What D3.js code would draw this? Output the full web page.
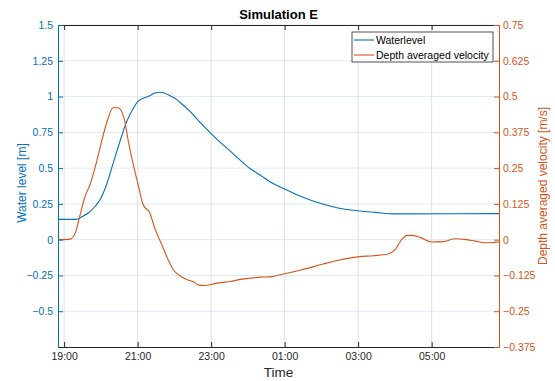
<!DOCTYPE html>
<html>
<head>
<meta charset="utf-8">
<script src="https://cdn.jsdelivr.net/npm/d3@7"></script>
<style>
  body { margin: 0; background: #fff; }
  svg { display: block; font-family: 'Liberation Sans', Arial, sans-serif; }
</style>
</head>
<body>
<script>
// Waterlevel [m]
const levelTimes = ['18:50', '19:20', '19:29', '19:40', '19:50', '20:00', '20:10', '20:20', '20:31', '20:42',
  '20:53', '21:00', '21:09', '21:20', '21:28', '21:37', '21:45', '21:53', '22:01', '22:09', '22:26', '22:42',
  '22:58', '23:15', '23:31', '23:47', '00:03', '00:20', '00:36', '01:01', '01:25', '01:50', '02:14', '02:39',
  '03:03', '03:28', '04:00', '06:50'];
const levelValues = [0.142, 0.142, 0.160, 0.188, 0.230, 0.289, 0.394, 0.533, 0.685, 0.824,
  0.918, 0.965, 0.988, 1.006, 1.025, 1.030, 1.023, 1.006, 0.988, 0.960, 0.894, 0.820,
  0.750, 0.680, 0.620, 0.557, 0.499, 0.452, 0.405, 0.352, 0.305, 0.265, 0.235, 0.212,
  0.200, 0.191, 0.180, 0.182];

// Depth averaged velocity [m/s]
const velTimes = ['18:50', '19:10', '19:19', '19:26', '19:34', '19:42', '19:53', '20:01', '20:10', '20:20',
  '20:28', '20:38', '20:45', '20:53', '21:01', '21:09', '21:20', '21:28', '21:39', '21:50', '21:58', '22:09',
  '22:20', '22:31', '22:39', '22:50', '23:01', '23:12', '23:31', '23:50', '00:03', '00:20', '00:36', '00:58',
  '01:30', '02:03', '02:30', '03:00', '03:25', '03:49', '04:00', '04:11', '04:19', '04:28', '04:41', '05:00',
  '05:19', '05:38', '05:54', '06:11', '06:27', '06:50'];
const velValues = [0.000, 0.002, 0.028, 0.086, 0.150, 0.191, 0.272, 0.342, 0.412, 0.461,
  0.461, 0.424, 0.342, 0.261, 0.191, 0.122, 0.093, 0.040, -0.015, -0.071, -0.104, -0.126,
  -0.139, -0.147, -0.158, -0.160, -0.156, -0.151, -0.146, -0.138, -0.135, -0.131, -0.130, -0.120,
  -0.104, -0.085, -0.071, -0.060, -0.056, -0.050, -0.036, 0.000, 0.014, 0.015, 0.008, -0.008,
  -0.007, 0.003, 0.001, -0.005, -0.011, -0.008];

const timeTicks = ['19:00', '21:00', '23:00', '01:00', '03:00', '05:00'];
const leftTicks = [-0.5, -0.25, 0, 0.25, 0.5, 0.75, 1, 1.25, 1.5];
const rightTicks = [-0.375, -0.25, -0.125, 0, 0.125, 0.25, 0.375, 0.5, 0.625, 0.75];

const W = 555, H = 381;
const m = { left: 58, right: 56, top: 25, bottom: 34 };
const blue = '#0072BD', orange = '#D95319', dark = '#262626';

// times before noon belong to the next day
const parseHM = d3.timeParse('%Y-%m-%d %H:%M');
const toDate = (s) => {
  const h = +s.slice(0, 2);
  return parseHM((h < 12 ? '2000-01-02 ' : '2000-01-01 ') + s);
};

const levelData = levelTimes.map((t, i) => ({ t: toDate(t), v: levelValues[i] }));
const velData = velTimes.map((t, i) => ({ t: toDate(t), v: velValues[i] }));

const x = d3.scaleTime()
  .domain([toDate('18:50'), toDate('06:50')])
  .range([m.left, W - m.right]);
const yL = d3.scaleLinear().domain([-0.75, 1.5]).range([H - m.bottom, m.top]);
const yR = d3.scaleLinear().domain([-0.375, 0.75]).range([H - m.bottom, m.top]);

const svg = d3.select('body').append('svg').attr('width', W).attr('height', H);

// grid
svg.append('g')
  .selectAll('line')
  .data(leftTicks)
  .join('line')
  .attr('x1', m.left).attr('x2', W - m.right)
  .attr('y1', (d) => yL(d)).attr('y2', (d) => yL(d))
  .attr('stroke', '#dfeaf4');
svg.append('g')
  .selectAll('line')
  .data(timeTicks)
  .join('line')
  .attr('x1', (d) => x(toDate(d))).attr('x2', (d) => x(toDate(d)))
  .attr('y1', m.top).attr('y2', H - m.bottom)
  .attr('stroke', '#e0e0e0');

// lines
const line = (ys) => d3.line().x((d) => x(d.t)).y((d) => ys(d.v)).curve(d3.curveMonotoneX);
svg.append('path').datum(levelData)
  .attr('fill', 'none').attr('stroke', blue).attr('stroke-width', 1.1)
  .attr('d', line(yL));
svg.append('path').datum(velData)
  .attr('fill', 'none').attr('stroke', orange).attr('stroke-width', 1.1)
  .attr('d', line(yR));

// axes
const styleAxis = (g, color) => {
  g.select('.domain').attr('stroke', color);
  g.selectAll('.tick line').attr('stroke', color);
  g.selectAll('.tick text').attr('fill', color).style('font-size', '10.5px')
    .style('font-family', "'Liberation Sans', Arial, sans-serif");
};

const xTickVals = timeTicks.map(toDate);
const fmt = d3.timeFormat('%H:%M');
svg.append('g')
  .attr('transform', `translate(0,${H - m.bottom})`)
  .call(d3.axisBottom(x).tickValues(xTickVals).tickFormat(fmt).tickSize(-5).tickSizeOuter(0).tickPadding(6))
  .call((g) => styleAxis(g, dark));
svg.append('g')
  .attr('transform', `translate(0,${m.top})`)
  .call(d3.axisTop(x).tickValues(xTickVals).tickFormat('').tickSize(-5).tickSizeOuter(0))
  .call((g) => styleAxis(g, dark));

svg.append('g')
  .attr('transform', `translate(${m.left},0)`)
  .call(d3.axisLeft(yL).tickValues(leftTicks).tickFormat(d3.format('~g')).tickSize(-5).tickSizeOuter(0).tickPadding(5))
  .call((g) => styleAxis(g, blue));
svg.append('g')
  .attr('transform', `translate(${W - m.right},0)`)
  .call(d3.axisRight(yR).tickValues(rightTicks).tickFormat(d3.format('~g')).tickSize(-5).tickSizeOuter(0).tickPadding(4))
  .call((g) => styleAxis(g, orange));

// labels
const cx = (m.left + W - m.right) / 2;
const cy = (m.top + H - m.bottom) / 2;
svg.append('text').attr('x', cx).attr('y', 19).attr('text-anchor', 'middle')
  .attr('font-size', 13).attr('font-weight', 'bold').attr('fill', '#000').text('Simulation E');
svg.append('text').attr('x', cx).attr('y', 377).attr('text-anchor', 'middle')
  .attr('font-size', 13.5).attr('fill', dark).text('Time');
svg.append('text').attr('transform', `translate(26,${cy - 3}) rotate(-90)`).attr('text-anchor', 'middle')
  .attr('font-size', 12).attr('fill', blue).text('Water level [m]');
svg.append('text').attr('transform', `translate(547,${cy}) rotate(-90)`).attr('text-anchor', 'middle')
  .attr('font-size', 12).attr('fill', orange).text('Depth averaged velocity [m/s]');

// legend
const legendItems = [
  { name: 'Waterlevel', color: blue },
  { name: 'Depth averaged velocity', color: orange },
];
const leg = svg.append('g').attr('transform', 'translate(352,32)');
leg.append('rect').attr('width', 141).attr('height', 30)
  .attr('fill', '#fff').attr('stroke', dark).attr('stroke-width', 0.8);
leg.selectAll('g.item')
  .data(legendItems)
  .join('g')
  .attr('class', 'item')
  .attr('transform', (d, i) => `translate(0,${8 + i * 15})`)
  .each(function (d) {
    const g = d3.select(this);
    g.append('line').attr('x1', 2).attr('x2', 22).attr('stroke', d.color).attr('stroke-width', 1.1);
    g.append('text').attr('x', 24).attr('y', 3.5).attr('font-size', 10.5).attr('fill', '#000').text(d.name);
  });
</script>
</body>
</html>
